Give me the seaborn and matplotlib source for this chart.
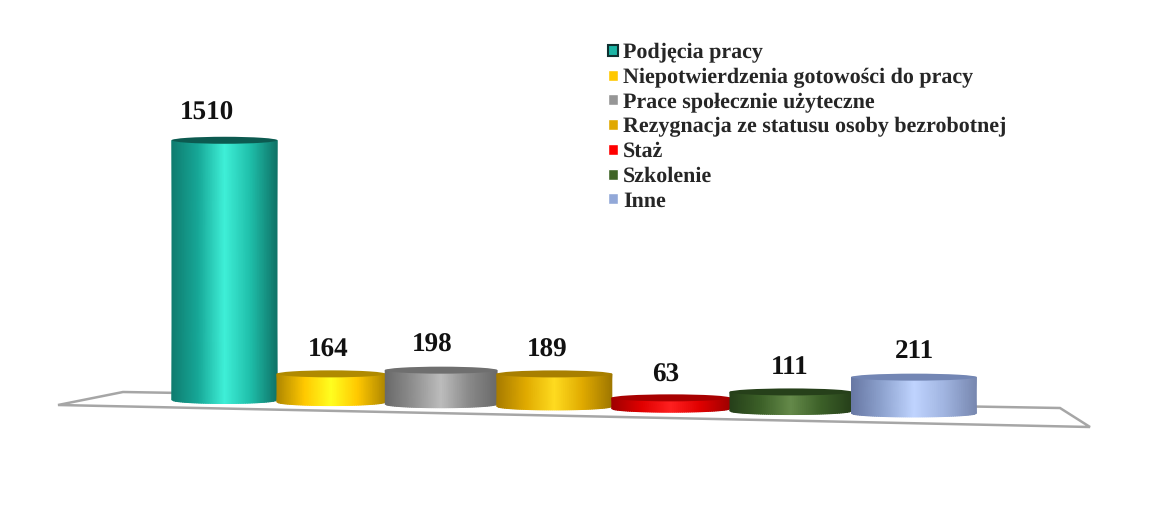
#### 3D style cylinder chart, seaborn bars + shading on a pixel canvas
import numpy as np
import pandas as pd
import matplotlib
matplotlib.use("Agg")
import matplotlib.pyplot as plt
from matplotlib.colors import LinearSegmentedColormap
from matplotlib.patches import Ellipse, Polygon
import seaborn as sns

categories = [
    "Podjęcia pracy",
    "Niepotwierdzenia gotowości do pracy",
    "Prace społecznie użyteczne",
    "Rezygnacja ze statusu osoby bezrobotnej",
    "Staż",
    "Szkolenie",
    "Inne",
]
values = [1510, 164, 198, 189, 63, 111, 211]

# styles
bar_colours = ["#1cb5a5", "#ffc800", "#969696", "#e0a800", "#ff0000", "#3f6426", "#92a8d8"]
top_colours = ["#0c5a50", "#b08a00", "#6f6f6f", "#a87f00", "#a80000", "#26401a", "#7386b4"]
shades = [
    ["#0f7d70", "#17a898", "#3ff0d8", "#1fbfaa", "#0f7468"],
    ["#b08800", "#ffc800", "#ffff20", "#ffc800", "#b08800"],
    ["#6a6a6a", "#909090", "#bdbdbd", "#8a8a8a", "#6a6a6a"],
    ["#a87c00", "#e0aa00", "#ffdc20", "#e0aa00", "#a07800"],
    ["#a00000", "#e00000", "#ff2020", "#e00000", "#a00000"],
    ["#26401a", "#3c6028", "#658a4a", "#3c6028", "#26401a"],
    ["#6878a4", "#8fa4d0", "#c0d4ff", "#a0b4e0", "#7888b0"],
]
label_dx = [-18, -3, -9, -7, -5, -1, 1]
label_dy = [-27, -24, -25, -24, -23, -24, -26]
plate = [(58, 405), (123, 392), (1060, 408), (1090, 427)]

W, H = 1150, 522
PX_PER_UNIT = 0.172
BASE_PX = 400
RY = 3.5


def persp(i):
    # bars get wider to the right, category index -> pixel
    k = np.asarray(i, dtype=float) + 0.5
    return 172 + 103.35 * k + 1.65 * k**2


def persp_inv(px):
    px = np.asarray(px, dtype=float)
    return (-103.35 + np.sqrt(103.35**2 + 6.6 * (px - 172))) / 3.3 - 0.5


def tilt(px):
    # floor runs slightly downhill
    return BASE_PX + 0.0195 * (px - 225)


sns.set_style("white")
plt.rcParams["font.family"] = ["Liberation Serif", "DejaVu Serif"]
plt.rcParams["font.weight"] = "bold"
plt.rcParams["text.hinting"] = "none"

df = pd.DataFrame({"category": categories, "value": values})

fig = plt.figure(figsize=(W / 100, H / 100), dpi=100)
ax = fig.add_axes([0, 0, 1, 1])
sns.barplot(
    data=df, x="category", y="value", hue="category", order=categories,
    hue_order=categories, palette=bar_colours, saturation=1, width=1, dodge=False,
    legend=True, ax=ax,
)
ax.set_xscale("function", functions=(persp, persp_inv))
ax.set_xlim(persp_inv(0), persp_inv(W))
ax.set_ylim((BASE_PX - H) / PX_PER_UNIT, BASE_PX / PX_PER_UNIT)
ax.axis("off")

sns.move_legend(
    ax, "upper left", bbox_to_anchor=(608 / W, 1 - 43 / H), frameon=False, title=None,
    fontsize=15.8, labelspacing=0.213, handlelength=0.46, handleheight=0.4,
    handletextpad=0.23, borderaxespad=0, borderpad=0,
)
ax.get_legend().legend_handles[0].set_edgecolor("#103030")
ax.get_legend().legend_handles[0].set_linewidth(1.5)

# pixel canvas for floor and cylinder shading
cv = fig.add_axes([0, 0, 1, 1], zorder=2)
cv.set_xlim(0, W)
cv.set_ylim(H, 0)
cv.axis("off")
cv.add_patch(Polygon(plate, closed=True, fill=False, edgecolor="#a6a6a6", lw=1.8, zorder=1))

# seaborn also leaves empty rectangles for the legend, keep only real bars
bars = sorted([p for p in ax.patches if p.get_height() > 0], key=lambda p: p.get_x())

for n, p in enumerate(bars):
    x0 = float(persp(p.get_x()))
    x1 = float(persp(p.get_x() + p.get_width()))
    cx = (x0 + x1) / 2
    base = tilt(cx)
    p.set_y((BASE_PX - base) / PX_PER_UNIT)
    top = base - p.get_height() * PX_PER_UNIT

    u = np.linspace(-1, 1, 61)
    xs = cx + u * (x1 - x0) / 2
    lower = base + RY * np.sqrt(1 - u**2)
    X = np.vstack([xs, xs])
    Y = np.vstack([np.full_like(xs, top), lower])
    C = np.vstack([u, u])
    cmap = LinearSegmentedColormap.from_list(f"cyl{n}", shades[n])
    cv.pcolormesh(X, Y, C, shading="gouraud", cmap=cmap, vmin=-1, vmax=1, zorder=2 + n)
    cv.add_patch(Ellipse((cx, top), x1 - x0, 2 * RY, facecolor=top_colours[n],
                         edgecolor="none", zorder=2 + n))
    cv.text(cx + label_dx[n], top + label_dy[n], str(values[n]), ha="center", va="center",
            fontsize=19.5, fontweight="bold", color="#111111", zorder=20)

fig.savefig("out.png", dpi=100)
plt.close(fig)
